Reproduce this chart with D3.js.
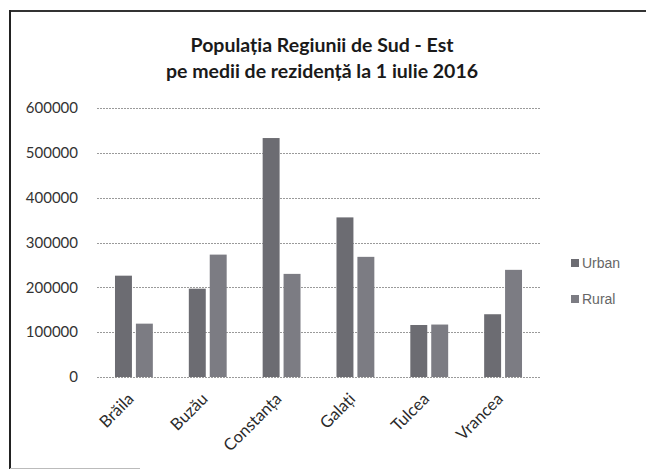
<!DOCTYPE html>
<html>
<head>
<meta charset="utf-8">
<script src="https://cdn.jsdelivr.net/npm/d3@7"></script>
<style>
  body { margin: 0; background: #fff; }
</style>
</head>
<body>
<div id="chart"></div>
<script>
var judete = ["Brăila", "Buzău", "Constanța", "Galați", "Tulcea", "Vrancea"];
var serii = ["Urban", "Rural"];
var urban = [226000, 197000, 533000, 356000, 116000, 140000];
var rural = [119000, 273000, 230000, 268000, 117000, 239000];
var yTicks = [0, 100000, 200000, 300000, 400000, 500000, 600000];

var width = 646, height = 470;
var culori = { "Urban": "#6c6c72", "Rural": "#7c7c83" };

var svg = d3.select("#chart").append("svg")
  .attr("width", width)
  .attr("height", height);

// chart frame (no right edge visible in the scan)
svg.append("line")
  .attr("x1", 10).attr("x2", 646).attr("y1", 11).attr("y2", 11)
  .attr("stroke", "#333").attr("stroke-width", 2);
svg.append("line")
  .attr("x1", 10).attr("x2", 10).attr("y1", 10).attr("y2", 469)
  .attr("stroke", "#222").attr("stroke-width", 2);
svg.append("line")
  .attr("x1", 10).attr("x2", 140).attr("y1", 468.5).attr("y2", 468.5)
  .attr("stroke", "#bbb").attr("stroke-width", 1);

// title
var title = svg.append("text")
  .attr("text-anchor", "middle")
  .attr("font-family", "Lato, sans-serif")
  .attr("font-weight", "bold")
  .attr("font-size", 19.5)
  .attr("fill", "#1a1a1a");
title.append("tspan").attr("x", 322).attr("y", 52).text("Populația Regiunii de Sud - Est");
title.append("tspan").attr("x", 322).attr("y", 78).text("pe medii de rezidență la 1 iulie 2016");

var x0 = d3.scaleBand().domain(judete).range([97, 540]).padding(0);
var x1 = d3.scaleBand().domain(serii).range([0, x0.bandwidth()])
  .paddingInner(0.19).paddingOuter(0.86);
var y = d3.scaleLinear().domain([0, 600000]).range([377, 108]);

// gridlines
svg.append("g").selectAll("line")
  .data(yTicks)
  .enter()
  .append("line")
    .attr("x1", 97).attr("x2", 540)
    .attr("y1", function(d) { return Math.round(y(d)) + 0.5; })
    .attr("y2", function(d) { return Math.round(y(d)) + 0.5; })
    .attr("stroke", "#9a9a9a")
    .attr("stroke-dasharray", "2,1");

// y axis labels
var yAxis = d3.axisLeft(y).tickValues(yTicks).tickSize(0).tickPadding(0)
  .tickFormat(function(d) { return d; });
var gy = svg.append("g").attr("transform", "translate(78,0)").call(yAxis);
gy.select(".domain").remove();
gy.selectAll("text")
  .attr("font-family", "Lato, sans-serif")
  .attr("font-size", 15)
  .attr("fill", "#333");

// bars
var rows = judete.map(function(j, i) {
  return { judet: j, vals: [{ s: "Urban", v: urban[i] }, { s: "Rural", v: rural[i] }] };
});

var groups = svg.append("g").selectAll("g")
  .data(rows)
  .enter()
  .append("g")
    .attr("transform", function(d) { return "translate(" + x0(d.judet) + ",0)"; });

groups.selectAll("rect")
  .data(function(d) { return d.vals; })
  .enter()
  .append("rect")
    .attr("x", function(d) { return x1(d.s); })
    .attr("y", function(d) { return y(d.v); })
    .attr("width", x1.bandwidth())
    .attr("height", function(d) { return y(0) - y(d.v); })
    .attr("fill", function(d) { return culori[d.s]; });

// category labels, rotated
svg.append("g").selectAll("text")
  .data(judete)
  .enter()
  .append("text")
    .attr("transform", function(d) {
      var cx = x0(d) + x0.bandwidth() / 2 + 1;
      return "translate(" + cx + ",400) rotate(-45)";
    })
    .attr("text-anchor", "end")
    .attr("font-family", "Lato, sans-serif")
    .attr("font-size", 16.5)
    .attr("fill", "#2a2a2a")
    .text(function(d) { return d; });

// legend
var legend = svg.append("g").selectAll("g")
  .data(serii)
  .enter()
  .append("g")
    .attr("transform", function(d, i) { return "translate(571," + (263 + i * 36) + ")"; });

legend.append("rect")
  .attr("x", 0).attr("y", -4)
  .attr("width", 8).attr("height", 8)
  .attr("fill", function(d) { return culori[d]; });

legend.append("text")
  .attr("x", 11).attr("y", 0)
  .attr("dy", "0.35em")
  .attr("font-family", "Liberation Sans, Arial, sans-serif")
  .attr("font-size", 14)
  .attr("fill", "#666")
  .text(function(d) { return d; });
</script>
</body>
</html>
